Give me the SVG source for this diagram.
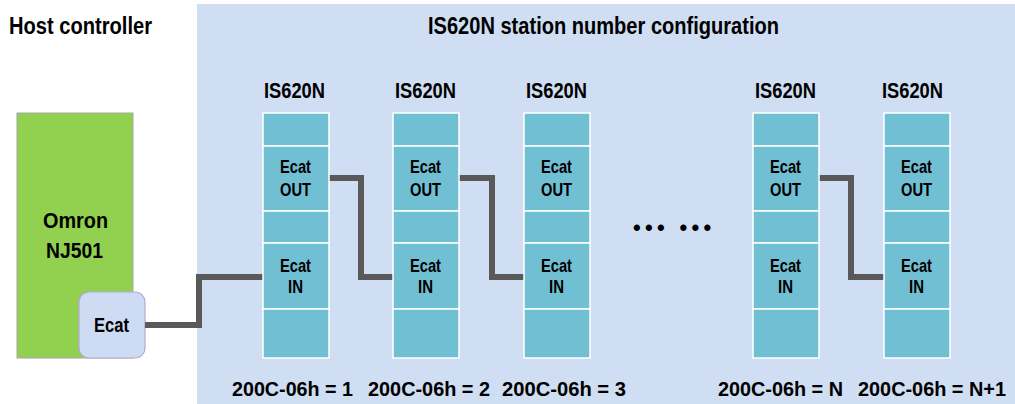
<svg xmlns="http://www.w3.org/2000/svg" width="1015" height="404" viewBox="0 0 1015 404">
  <defs>
    <style>
      .t { font-family: "Liberation Sans Narrow", "Liberation Sans", Arial, sans-serif; font-weight: bold; fill: #000; }
      .cell { fill: #71bfd3; stroke: #ffffff; stroke-width: 1.5; }
      .wire { fill: none; stroke: #595959; stroke-width: 6; stroke-linejoin: miter; }
    </style>
    <g id="col">
      <rect class="cell" x="0" y="0" width="66" height="33"/>
      <rect class="cell" x="0" y="33" width="66" height="65"/>
      <rect class="cell" x="0" y="98" width="66" height="32"/>
      <rect class="cell" x="0" y="130" width="66" height="66"/>
      <rect class="cell" x="0" y="196" width="66" height="49"/>
    </g>
  </defs>

  <rect id="bg" x="0" y="0" width="1015" height="404" fill="#ffffff"/>
  <rect id="config-area" x="197" y="4" width="818" height="400" fill="#cfdef3"/>

  <text class="t" x="9" y="34" font-size="23" textLength="143" lengthAdjust="spacingAndGlyphs">Host controller</text>
  <text class="t" x="428" y="34" font-size="23" textLength="351" lengthAdjust="spacingAndGlyphs">IS620N station number configuration</text>

  <g id="host">
    <rect x="17" y="113" width="116" height="245" fill="#92d050" stroke="#a6a6a6" stroke-width="1"/>
    <text class="t" x="43" y="228" font-size="22" textLength="65" lengthAdjust="spacingAndGlyphs">Omron</text>
    <text class="t" x="46" y="258" font-size="22" textLength="57" lengthAdjust="spacingAndGlyphs">NJ501</text>
  </g>
  <g id="host-ecat">
    <rect x="79" y="292" width="66" height="66" rx="10" ry="10" fill="#cddcf2" stroke="#b4a7d6" stroke-width="1.2"/>
    <text class="t" x="94" y="332" font-size="20" textLength="35" lengthAdjust="spacingAndGlyphs">Ecat</text>
  </g>

  <g id="connectors">
    <path class="wire" d="M145,325 H199 V277 H263"/>
    <path class="wire" d="M329,178 H361 V277 H393"/>
    <path class="wire" d="M459,178 H492 V277 H524"/>
    <path class="wire" d="M818,178 H851 V277 H884"/>
  </g>

  <g id="station1">
    <text class="t" x="264" y="98" font-size="22" textLength="61" lengthAdjust="spacingAndGlyphs">IS620N</text>
    <use href="#col" x="263" y="113"/>
    <text class="t" x="280" y="173" font-size="19" textLength="31" lengthAdjust="spacingAndGlyphs">Ecat</text>
    <text class="t" x="280" y="196" font-size="19" textLength="31" lengthAdjust="spacingAndGlyphs">OUT</text>
    <text class="t" x="280" y="272" font-size="19" textLength="31" lengthAdjust="spacingAndGlyphs">Ecat</text>
    <text class="t" x="288" y="293" font-size="19" textLength="15" lengthAdjust="spacingAndGlyphs">IN</text>
    <text class="t" x="232" y="396" font-size="21" textLength="121" lengthAdjust="spacingAndGlyphs">200C-06h = 1</text>
  </g>
  <g id="station2">
    <text class="t" x="395" y="98" font-size="22" textLength="61" lengthAdjust="spacingAndGlyphs">IS620N</text>
    <use href="#col" x="393" y="113"/>
    <text class="t" x="410" y="173" font-size="19" textLength="31" lengthAdjust="spacingAndGlyphs">Ecat</text>
    <text class="t" x="410" y="196" font-size="19" textLength="31" lengthAdjust="spacingAndGlyphs">OUT</text>
    <text class="t" x="410" y="272" font-size="19" textLength="31" lengthAdjust="spacingAndGlyphs">Ecat</text>
    <text class="t" x="418" y="293" font-size="19" textLength="15" lengthAdjust="spacingAndGlyphs">IN</text>
    <text class="t" x="368" y="396" font-size="21" textLength="122" lengthAdjust="spacingAndGlyphs">200C-06h = 2</text>
  </g>
  <g id="station3">
    <text class="t" x="526" y="98" font-size="22" textLength="61" lengthAdjust="spacingAndGlyphs">IS620N</text>
    <use href="#col" x="524" y="113"/>
    <text class="t" x="541" y="173" font-size="19" textLength="31" lengthAdjust="spacingAndGlyphs">Ecat</text>
    <text class="t" x="541" y="196" font-size="19" textLength="31" lengthAdjust="spacingAndGlyphs">OUT</text>
    <text class="t" x="541" y="272" font-size="19" textLength="31" lengthAdjust="spacingAndGlyphs">Ecat</text>
    <text class="t" x="549" y="293" font-size="19" textLength="15" lengthAdjust="spacingAndGlyphs">IN</text>
    <text class="t" x="502" y="396" font-size="21" textLength="124" lengthAdjust="spacingAndGlyphs">200C-06h = 3</text>
  </g>

  <text id="ellipsis" class="t" x="633" y="235" font-size="22" letter-spacing="4.3">••• •••</text>

  <g id="stationN">
    <text class="t" x="755" y="98" font-size="22" textLength="61" lengthAdjust="spacingAndGlyphs">IS620N</text>
    <use href="#col" x="753" y="113"/>
    <text class="t" x="770" y="173" font-size="19" textLength="31" lengthAdjust="spacingAndGlyphs">Ecat</text>
    <text class="t" x="770" y="196" font-size="19" textLength="31" lengthAdjust="spacingAndGlyphs">OUT</text>
    <text class="t" x="770" y="272" font-size="19" textLength="31" lengthAdjust="spacingAndGlyphs">Ecat</text>
    <text class="t" x="778" y="293" font-size="19" textLength="15" lengthAdjust="spacingAndGlyphs">IN</text>
    <text class="t" x="718" y="396" font-size="21" textLength="125" lengthAdjust="spacingAndGlyphs">200C-06h = N</text>
  </g>
  <g id="stationN1">
    <text class="t" x="882" y="98" font-size="22" textLength="61" lengthAdjust="spacingAndGlyphs">IS620N</text>
    <use href="#col" x="884" y="113"/>
    <text class="t" x="901" y="173" font-size="19" textLength="31" lengthAdjust="spacingAndGlyphs">Ecat</text>
    <text class="t" x="901" y="196" font-size="19" textLength="31" lengthAdjust="spacingAndGlyphs">OUT</text>
    <text class="t" x="901" y="272" font-size="19" textLength="31" lengthAdjust="spacingAndGlyphs">Ecat</text>
    <text class="t" x="909" y="293" font-size="19" textLength="15" lengthAdjust="spacingAndGlyphs">IN</text>
    <text class="t" x="858" y="396" font-size="21" textLength="148" lengthAdjust="spacingAndGlyphs">200C-06h = N+1</text>
  </g>
</svg>
